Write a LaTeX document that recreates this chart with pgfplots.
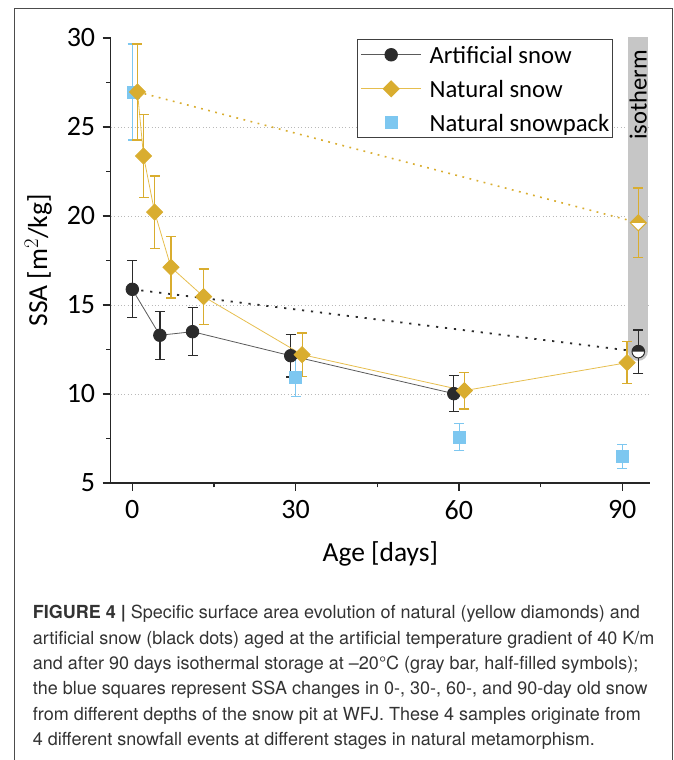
\documentclass[border=0pt]{standalone}
\usepackage{fontspec}
\setmainfont{Carlito}
\newfontfamily\capfont{TeX Gyre Heros}
\usepackage{pgfplots}
\pgfplotsset{compat=1.18}

\definecolor{artc}{HTML}{2B2B2B}
\definecolor{artline}{HTML}{5A5A5A}
\definecolor{natc}{HTML}{D9AD2F}
\definecolor{natline}{HTML}{E6BE4E}
\definecolor{bluec}{HTML}{7DC7F0}
\definecolor{barc}{HTML}{C6C6C6}
\definecolor{capc}{HTML}{333333}

\pgfdeclareplotmark{fdiam}{%
  \pgfpathmoveto{\pgfqpoint{0pt}{\pgfplotmarksize}}%
  \pgfpathlineto{\pgfqpoint{\pgfplotmarksize}{0pt}}%
  \pgfpathlineto{\pgfqpoint{0pt}{-\pgfplotmarksize}}%
  \pgfpathlineto{\pgfqpoint{-\pgfplotmarksize}{0pt}}%
  \pgfpathclose
  \pgfusepathqfillstroke}

\pgfdeclareplotmark{halfdiam}{%
  \begin{pgfscope}%
  \pgfsetfillcolor{white}%
  \pgfpathmoveto{\pgfqpoint{-\pgfplotmarksize}{0pt}}%
  \pgfpathlineto{\pgfqpoint{0pt}{-\pgfplotmarksize}}%
  \pgfpathlineto{\pgfqpoint{\pgfplotmarksize}{0pt}}%
  \pgfpathclose
  \pgfusepathqfill
  \end{pgfscope}%
  \begin{pgfscope}%
  \pgfsetfillcolor{natc}%
  \pgfpathmoveto{\pgfqpoint{-\pgfplotmarksize}{0pt}}%
  \pgfpathlineto{\pgfqpoint{0pt}{\pgfplotmarksize}}%
  \pgfpathlineto{\pgfqpoint{\pgfplotmarksize}{0pt}}%
  \pgfpathclose
  \pgfusepathqfill
  \end{pgfscope}%
  \pgfpathmoveto{\pgfqpoint{0pt}{\pgfplotmarksize}}%
  \pgfpathlineto{\pgfqpoint{\pgfplotmarksize}{0pt}}%
  \pgfpathlineto{\pgfqpoint{0pt}{-\pgfplotmarksize}}%
  \pgfpathlineto{\pgfqpoint{-\pgfplotmarksize}{0pt}}%
  \pgfpathclose
  \pgfusepathqstroke}

\pgfdeclareplotmark{halfcirc}{%
  \begin{pgfscope}%
  \pgfsetfillcolor{white}%
  \pgfpathcircle{\pgfpointorigin}{\pgfplotmarksize}%
  \pgfusepathqfill
  \end{pgfscope}%
  \begin{pgfscope}%
  \pgfsetfillcolor{artc}%
  \pgfpathmoveto{\pgfqpoint{\pgfplotmarksize}{0pt}}%
  \pgfpatharc{0}{180}{\pgfplotmarksize}%
  \pgfpathclose
  \pgfusepathqfill
  \end{pgfscope}%
  \pgfpathcircle{\pgfpointorigin}{\pgfplotmarksize}%
  \pgfusepathqstroke}

\pgfplotsset{
  ebar/.style={error bars/.cd, y dir=both, y explicit,
    error bar style={line width=1.3pt, color=#1},
    error mark options={rotate=90, mark size=5pt, line width=1.3pt, color=#1}},
  mylegline/.style={legend image code/.code={\draw[mark repeat=2,mark phase=2,##1] plot coordinates {(0pt,0pt) (30pt,0pt) (60pt,0pt)};}},
  mylegmark/.style={legend image code/.code={\draw[##1] plot coordinates {(30pt,0pt)};}},
}

\begin{document}
\begin{tikzpicture}
\path[use as bounding box] (0pt,0pt) rectangle (674pt,760pt);
% outer frame
\draw[black!70, line width=1pt] (14pt,0pt) -- (14pt,751pt) -- (672pt,751pt) -- (672pt,0pt);

\begin{axis}[
  at={(110.7pt,277pt)}, anchor=south west,
  scale only axis, width=539.3pt, height=445pt,
  xmin=-3.97, xmax=95.1, ymin=5, ymax=30,
  axis x line*=bottom, axis y line*=left,
  axis line style={-, line width=1.3pt, black!85},
  xtick={0,30,60,90}, minor xtick={15,45,75},
  ytick={5,10,15,20,25,30}, minor ytick={7.5,12.5,17.5,22.5,27.5},
  tick align=outside, major tick length=8pt, minor tick length=4.5pt,
  every tick/.style={line width=1.3pt, black!85},
  ticklabel style={font=\fontsize{28}{28}\selectfont},
  xticklabel style={yshift=-6pt},
  yticklabel style={xshift=-4pt},
  /pgf/number format/assume math mode=true,
  extra y ticks={10,15,20,25}, extra y tick labels={},
  extra y tick style={grid=major, major tick length=0pt,
     major grid style={gray!55, line width=0.7pt, dash pattern=on 0.8pt off 2.6pt}},
  xlabel={Age [days]}, ylabel={SSA [m$^2$/kg]},
  label style={font=\fontsize{27.5}{28}\selectfont},
  xlabel style={yshift=-15pt},
  legend style={at={(0.4573,0.997)}, anchor=north west, draw=black!75,
     line width=0.9pt, fill=white, inner xsep=3pt, inner ysep=3pt,
     font=\fontsize{24.7}{25}\selectfont, row sep=10pt,
     nodes={inner xsep=0pt, inner ysep=0pt, text height=21pt, text depth=3pt},
     /tikz/every odd column/.append style={column sep=8pt}},
  legend cell align=left,
  mylegline,
]

% isotherm bar
\addplot[forget plot, line width=20pt, color=barc, line cap=round] coordinates {(92.95,12.42) (92.95,31)};
\node[rotate=90, font=\fontsize{24.6}{25}\selectfont, text=black] at (axis cs:92.95,26.8) {isotherm};

% dotted connections to isotherm
\addplot[forget plot, color=artc, line width=1.8pt, dash pattern=on 2.2pt off 6.8pt] coordinates {(0,15.88) (92.95,12.38)};
\addplot[forget plot, color=natc, line width=1.6pt, dash pattern=on 1.8pt off 5.5pt] coordinates {(0.95,26.97) (92.95,19.62)};

% Artificial snow
\addplot[forget plot, color=artline, line width=0.8pt, mark=*, mark size=6.3pt,
  mark options={fill=artc, draw=artc, solid}, ebar=artc]
  coordinates {
  (0,15.88) +- (0,1.6)
  (5.06,13.30) +- (0,1.35)
  (11.06,13.50) +- (0,1.35)
  (29.1,12.15) +- (0,1.2)
  (59.06,10.02) +- (0,1.0)
  };

% Natural snowpack
\addplot[forget plot, only marks, color=bluec, mark=square*, mark size=6pt,
  mark options={fill=bluec, draw=bluec}, ebar=bluec]
  coordinates {
  (0.08,26.97) +- (0,2.7)
  (30,10.92) +- (0,1.08)
  (60.1,7.58) +- (0,0.76)
  (90,6.48) +- (0,0.67)
  };

% Natural snow
\addplot[forget plot, color=natline, line width=0.8pt, mark=fdiam, mark size=8pt,
  mark options={fill=natc, draw=natc, solid}, ebar=natc]
  coordinates {
  (0.95,26.97) +- (0,2.7)
  (2.06,23.37) +- (0,2.35)
  (4.1,20.22) +- (0,2.03)
  (7.1,17.12) +- (0,1.72)
  (13.1,15.47) +- (0,1.55)
  (31.2,12.21) +- (0,1.22)
  (61.0,10.19) +- (0,1.03)
  (90.9,11.76) +- (0,1.19)
  };

% isotherm points (half-filled)
\addplot[forget plot, only marks, color=artc, mark=halfcirc, mark size=6.3pt,
  mark options={line width=1pt}, ebar=artc]
  coordinates {(92.95,12.38) +- (0,1.22)};
\addplot[forget plot, only marks, color=natc, mark=halfdiam, mark size=8pt,
  mark options={line width=1pt}, ebar=natc]
  coordinates {(92.95,19.62) +- (0,1.96)};

% legend
\addlegendimage{color=artline, line width=0.8pt, mark=*, mark size=6.3pt, mark options={fill=artc, draw=artc}}
\addlegendentry{Artificial snow}
\addlegendimage{color=natline, line width=0.8pt, mark=fdiam, mark size=8pt, mark options={fill=natc, draw=natc}}
\addlegendentry{Natural snow}
\addlegendimage{only marks, color=bluec, mark=square*, mark size=6pt, mark options={fill=bluec, draw=bluec}, mylegmark}
\addlegendentry{Natural snowpack}
\end{axis}

% caption
\begin{scope}[every node/.style={anchor=base west, inner sep=0pt, text=capc, font=\capfont\fontsize{18}{20}\selectfont}]
\node at (32.7pt,141.0pt) {{\bfseries FIGURE 4 |} Specific surface area evolution of natural (yellow diamonds) and};
\node at (32.7pt,115.7pt) {artificial snow (black dots) aged at the artificial temperature gradient of 40 K/m};
\node at (32.7pt,90.4pt) {and after 90 days isothermal storage at –20°C (gray bar, half-filled symbols);};
\node at (32.7pt,65.1pt) {the blue squares represent SSA changes in 0-, 30-, 60-, and 90-day old snow};
\node at (32.7pt,39.8pt) {from different depths of the snow pit at WFJ. These 4 samples originate from};
\node at (32.7pt,14.5pt) {4 different snowfall events at different stages in natural metamorphism.};
\end{scope}
\end{tikzpicture}
\end{document}
